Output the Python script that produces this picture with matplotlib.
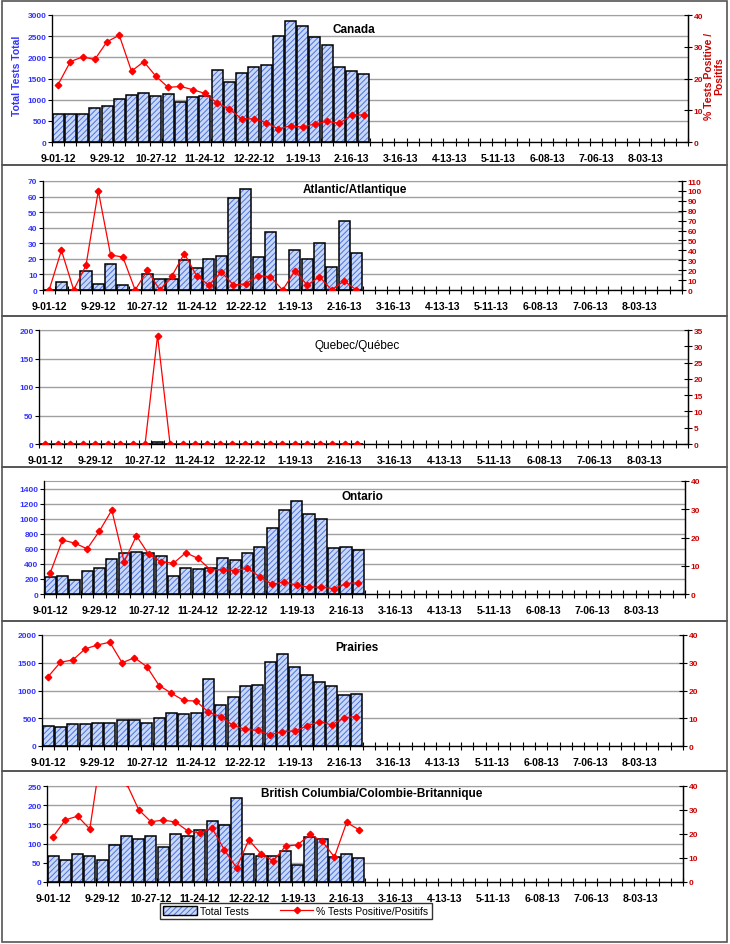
import numpy as np
import matplotlib
matplotlib.use("Agg")
import matplotlib.pyplot as plt
from matplotlib.patches import Patch, Rectangle
from matplotlib.lines import Line2D
from matplotlib.ticker import MultipleLocator, FixedLocator

plt.rcParams['font.family'] = ['Liberation Sans', 'DejaVu Sans']
plt.rcParams['hatch.linewidth'] = 0.7

# weekly categories, 9-01-12 .. 8-24-13 (52 weeks), labels every 4 weeks
n_weeks = 52
tick_labels = ['9-01-12', '9-29-12', '10-27-12', '11-24-12', '12-22-12', '1-19-13',
               '2-16-13', '3-16-13', '4-13-13', '5-11-13', '6-08-13', '7-06-13', '8-03-13']

canada_tests = [650, 650, 670, 800, 850, 1020, 1120, 1150, 1090, 1130, 950, 1070, 1090,
                1710, 1410, 1630, 1760, 1820, 2500, 2870, 2740, 2480, 2280, 1780, 1670, 1610]
canada_pct = [18.1, 25.3, 26.8, 26.0, 31.6, 33.6, 22.3, 25.3, 20.7, 17.2, 17.5, 16.5, 15.3,
              12.3, 10.4, 7.3, 7.3, 6.1, 4.1, 5.1, 4.7, 5.7, 6.5, 5.9, 8.5, 8.5]

atl_tests = [0, 5, 0, 12, 4, 17, 3, 0, 10, 7, 7, 19, 14, 20, 22, 59, 65, 21, 37, 0, 26, 20,
             30, 15, 44, 24]
atl_pct = [0, 40, 0, 25, 100, 35.3, 33.3, 0, 20, 0, 14.3, 36.8, 14.3, 5, 18.2, 5.1, 6.2, 14.3,
           13.5, 0, 19.2, 5, 13.3, 0, 9.1, 0]

que_tests = [0, 0, 0, 0, 0, 0, 0, 0, 0, 3, 0, 0, 0, 0, 0, 0, 0, 0, 0, 0, 0, 0, 0, 0, 0, 0]
que_pct = [0, 0, 0, 0, 0, 0, 0, 0, 0, 33.3, 0, 0, 0, 0, 0, 0, 0, 0, 0, 0, 0, 0, 0, 0, 0, 0]

ont_tests = [230, 240, 180, 300, 350, 470, 550, 560, 540, 500, 240, 340, 330, 340, 480, 450,
             540, 620, 880, 1110, 1230, 1060, 990, 610, 620, 580]
ont_pct = [7.4, 19.1, 18.0, 16.0, 22.3, 29.7, 11.4, 20.6, 14.0, 11.4, 10.9, 14.6, 12.6, 8.6,
           8.6, 8.3, 9.1, 6.1, 3.4, 4.3, 3.1, 2.4, 2.4, 1.9, 3.7, 4.0]

pra_tests = [360, 340, 400, 400, 420, 420, 460, 460, 420, 510, 590, 570, 590, 1200, 740, 890,
             1090, 1100, 1510, 1660, 1430, 1280, 1150, 1090, 920, 930]
pra_pct = [25.0, 30.2, 31.0, 35.0, 36.4, 37.4, 30.0, 31.8, 28.6, 21.8, 19.0, 16.4, 16.2, 12.2,
           10.6, 7.4, 6.0, 5.6, 4.0, 5.2, 5.4, 7.2, 8.8, 7.6, 10.2, 10.6]

bc_tests = [68, 56, 73, 68, 56, 97, 121, 112, 119, 92, 124, 121, 136, 160, 148, 220, 74, 68,
            68, 80, 45, 117, 112, 66, 74, 63]
bc_pct = [18.9, 25.9, 27.4, 22.1, 56.0, 58.0, 41.1, 30.1, 25.1, 25.8, 25.0, 21.3, 20.5, 22.4,
          13.4, 5.9, 17.6, 11.7, 8.8, 14.9, 15.5, 19.8, 17.0, 10.4, 24.8, 21.8]

BLUE_TXT = '#3333ff'
RED_TXT = '#cc0000'
BAR_FACE = '#cad8f8'
BAR_HATCH = '#4a72e0'
GRID = '#a0a0a0'

W, H = 730, 945
fig = plt.figure(figsize=(W / 100, H / 100), dpi=100)


def px_axes(left, right, top, bottom):
    return fig.add_axes([left / W, 1 - bottom / H, (right - left) / W, (bottom - top) / H])


def panel(box, title, title_xy, tests, pct, ymax, ystep, ytop, rmax, rstep, title_bold=True):
    ax = px_axes(*box)
    x = np.arange(len(tests))
    ax.set_axisbelow(True)
    ax.bar(x, tests, width=0.9, color=BAR_FACE, edgecolor=BAR_HATCH, hatch='//////',
           linewidth=0, zorder=2)
    ax.bar(x, tests, width=0.9, fill=False, edgecolor='black', linewidth=1.1, zorder=3)
    ax.set_xlim(-0.5, n_weeks - 0.5)
    ax.set_ylim(0, ytop)
    ax.yaxis.set_major_locator(FixedLocator(np.arange(0, ymax + 1, ystep)))
    ax.yaxis.grid(True, color=GRID, linewidth=1)
    ax.tick_params(axis='y', colors='black', labelcolor=BLUE_TXT, labelsize=6, length=3,
                   width=0.8, pad=1)
    for t in ax.get_yticklabels():
        t.set_fontweight('bold')
    ax.xaxis.set_major_locator(FixedLocator(np.arange(0, n_weeks, 4)))
    ax.set_xticklabels(tick_labels, fontsize=7.5, fontweight='bold')
    ax.xaxis.set_minor_locator(FixedLocator(np.arange(-0.5, n_weeks, 1)))
    ax.tick_params(axis='x', which='major', length=0, pad=8)
    ax.tick_params(axis='x', which='minor', length=6, width=0.8, direction='inout')
    ax.spines['top'].set_color(GRID)
    for s in ('left', 'bottom', 'right'):
        ax.spines[s].set_linewidth(0.9)

    ax2 = ax.twinx()
    ax2.plot(x, pct, color='#ff0000', linewidth=0.9, marker='D', markersize=3.3, zorder=4)
    ax2.set_ylim(0, rmax)
    ax2.yaxis.set_major_locator(MultipleLocator(rstep))
    ax2.tick_params(axis='y', labelcolor=RED_TXT, labelsize=6, length=6, width=0.8,
                    direction='inout', pad=1)
    for t in ax2.get_yticklabels():
        t.set_fontweight('bold')
    ax2.spines['top'].set_visible(False)
    ax2.spines['right'].set_linewidth(0.9)

    tx = (title_xy[0] - box[0]) / (box[1] - box[0])
    ty = (box[3] - title_xy[1]) / (box[3] - box[2])
    ax.text(tx, ty, title, transform=ax.transAxes, ha='center', va='center', fontsize=8.5,
            fontweight='bold' if title_bold else 'normal', zorder=5)
    return ax, ax2


# left, right, top, bottom in pixels
ax, ax2 = panel((52, 688, 16, 143), 'Canada', (354, 30), canada_tests, canada_pct,
                3000, 500, 3000, 40, 10)
fig.text(17 / W, 1 - 76 / H, 'Total Tests Total', rotation=90, ha='center', va='center',
         color=BLUE_TXT, fontsize=7.5, fontweight='bold')
fig.text(714 / W, 1 - 76 / H, '% Tests Positive /\nPositifs', rotation=90, ha='center',
         va='center', color=RED_TXT, fontsize=7.5, fontweight='bold', linespacing=1.0)

panel((43, 682, 182, 291), 'Atlantic/Atlantique', (355, 190), atl_tests, atl_pct,
      70, 10, 70, 110, 10)
panel((39, 688, 331, 445), 'Quebec/Québec', (357, 346), que_tests, que_pct,
      200, 50, 200, 35, 5, title_bold=False)
panel((44, 685, 482, 595), 'Ontario', (362, 497), ont_tests, ont_pct,
      1400, 200, 1500, 40, 10)
panel((42, 683, 636, 747), 'Prairies', (357, 648), pra_tests, pra_pct,
      2000, 500, 2000, 40, 10)
panel((47, 683, 787, 883), 'British Columbia/Colombie-Britannique', (372, 794), bc_tests, bc_pct,
      250, 50, 250, 40, 10)

# legend (only in the last panel)
bar_h = (Patch(facecolor=BAR_FACE, edgecolor=BAR_HATCH, hatch='//////', linewidth=0),
         Patch(fill=False, edgecolor='black', linewidth=1.0))
line_h = Line2D([], [], color='#ff0000', linewidth=0.9, marker='D', markersize=3.3)
leg = fig.legend([bar_h, line_h], ['Total Tests', '% Tests Positive/Positifs'],
                 loc='center', bbox_to_anchor=(296 / W, 1 - 912 / H), ncol=2, fontsize=7.5,
                 frameon=True, fancybox=False, handlelength=3.2, handleheight=0.9,
                 borderpad=0.3, columnspacing=3.0, handletextpad=0.3)
leg.get_frame().set_edgecolor('black')
leg.get_frame().set_linewidth(1.0)

# panel frames
for y0, y1 in [(2, 166), (166, 317), (317, 468), (468, 622), (622, 772), (772, 943)]:
    fig.add_artist(Rectangle((2 / W, 1 - y1 / H), (W - 5) / W, (y1 - y0) / H,
                             transform=fig.transFigure, fill=False, edgecolor='#555555',
                             linewidth=1.2))

fig.savefig('out.png', dpi=100)
